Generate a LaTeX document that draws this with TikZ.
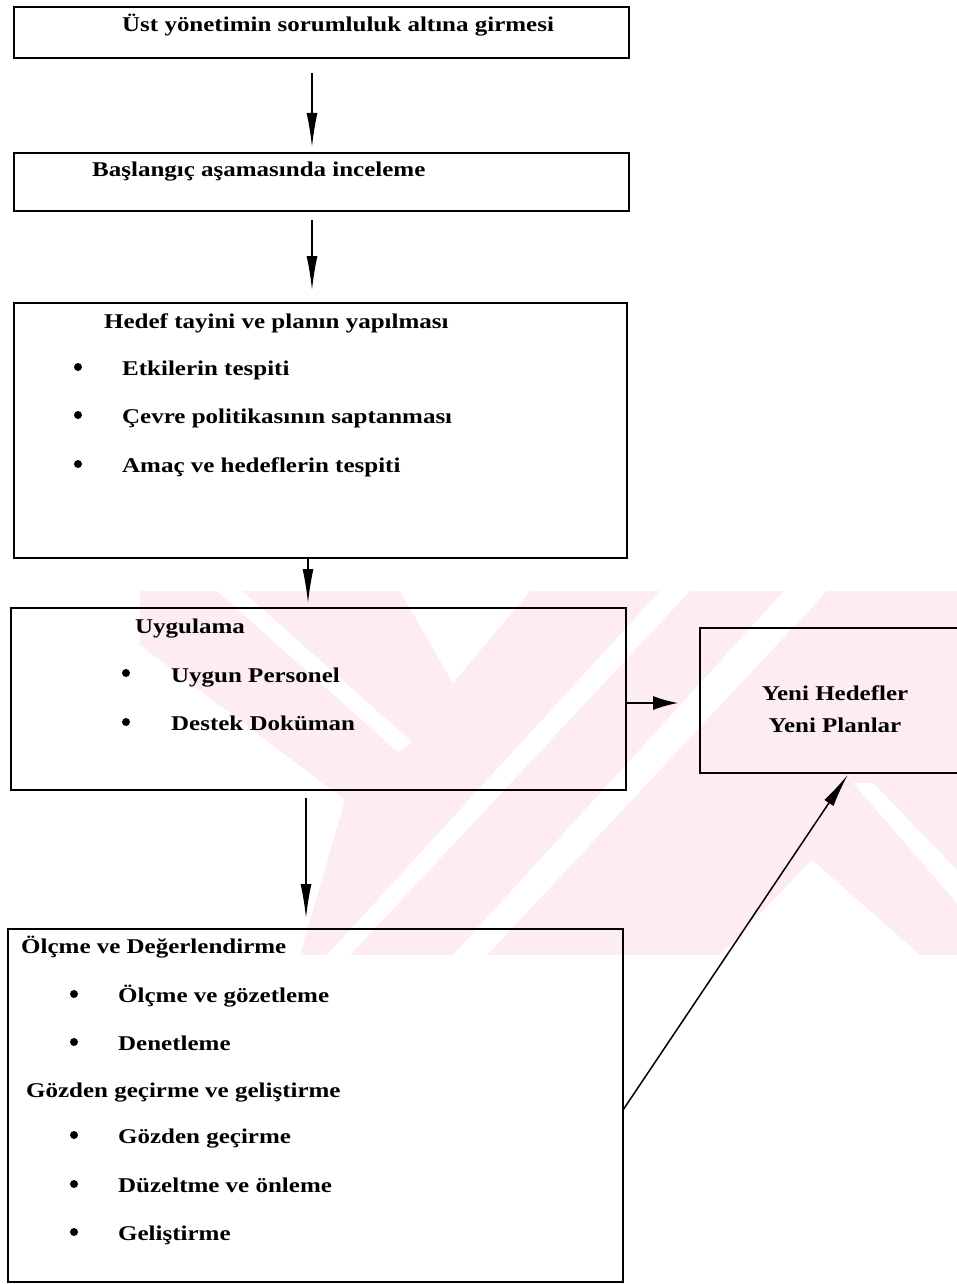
\documentclass[tikz,border=0pt]{standalone}
\usepackage{fontspec}
\setmainfont{Liberation Serif}[BoldFeatures={FakeStretch=1.19}]
\usetikzlibrary{arrows.meta,positioning}
\definecolor{wmpink}{RGB}{253,237,241}
\tikzset{
  flowbox/.style={
    draw=black, line width=1.3pt,
    inner sep=0pt, outer sep=0pt
  },
  flowtext/.style={
    font=\fontsize{21}{26}\selectfont\bfseries,
    inner sep=0pt, anchor=base west
  },
  bulletdot/.style={
    circle, fill=black, inner sep=0pt, minimum size=8pt
  },
  flowarrow/.style={
    -{Latex[length=34pt,width=11pt]},
    draw=black, line width=1.5pt
  },
  sidearrow/.style={
    -{Latex[length=25pt,width=14pt]},
    draw=black, line width=1.5pt
  },
}

\begin{document}
\begin{tikzpicture}[x=1pt, y=-1pt]

  \useasboundingbox (0,0) rectangle (957,1284);
  \clip (0,0) rectangle (957,1284);

  %% watermark
  \fill[wmpink] (140,591) -- (957,591) -- (957,955) -- (300,955)
    -- (345,800) -- (140,645) -- cycle;
  \fill[white] (217,591) -- (242,591) -- (412,742) -- (398,752) -- cycle;
  \fill[white] (400,591) -- (530,591) -- (453,683) -- cycle;
  \fill[white] (327,955) -- (350,955) -- (690,591) -- (660,591) -- cycle;
  \fill[white] (453,955) -- (487,955) -- (827,591) -- (784,591) -- cycle;
  \fill[white] (720,955) -- (812,860) -- (920,955) -- cycle;
  \fill[white] (853,783) -- (873,783) -- (957,870) -- (957,903) -- cycle;

  %% Boxes
  \node[flowbox, minimum width=615pt, minimum height=51pt] (top)
    at (321.5,32.5) {};
  \node[flowbox, minimum width=615pt, minimum height=58pt] (scan)
    at (321.5,182) {};
  \node[flowbox, minimum width=613pt, minimum height=255pt] (plan)
    at (320.5,430.5) {};
  \node[flowbox, minimum width=615pt, minimum height=182pt] (impl)
    at (318.5,699) {};
  \node[flowbox, minimum width=275pt, minimum height=145pt] (newplan)
    at (837.5,700.5) {};
  \node[flowbox, minimum width=615pt, minimum height=353pt] (check)
    at (315.5,1105.5) {};

  %% Texts
  \node[flowtext] (toptext) at (122,32) {Üst yönetimin sorumluluk altına girmesi};
  \node[flowtext] (scantext) at (92,177) {Başlangıç aşamasında inceleme};

  \node[flowtext] (plantitle) at (104,328) {Hedef tayini ve planın yapılması};
  \node[flowtext] (plan1) at (122,375) {Etkilerin tespiti};
  \node[flowtext] (plan2) at (122,423) {Çevre politikasının saptanması};
  \node[flowtext] (plan3) at (122,472) {Amaç ve hedeflerin tespiti};
  \node[bulletdot] (pdot1) at (78,367) {};
  \node[bulletdot] (pdot2) at (78,415) {};
  \node[bulletdot] (pdot3) at (78,464) {};

  \node[flowtext] (impltitle) at (135,633) {Uygulama};
  \node[flowtext] (impl1) at (171,682) {Uygun Personel};
  \node[flowtext] (impl2) at (171,730) {Destek Doküman};
  \node[bulletdot] (idot1) at (126,673) {};
  \node[bulletdot] (idot2) at (126,722) {};

  \node[flowtext, anchor=center, align=center,
        font=\fontsize{21}{32}\selectfont\bfseries] (newtext)
    at (835,709) {Yeni Hedefler\\Yeni Planlar};

  \node[flowtext] (checktitle) at (21,953) {Ölçme ve Değerlendirme};
  \node[flowtext] (check1) at (118,1002) {Ölçme ve gözetleme};
  \node[flowtext] (check2) at (118,1050) {Denetleme};
  \node[flowtext] (reviewtitle) at (26,1097) {Gözden geçirme ve geliştirme};
  \node[flowtext] (review1) at (118,1143) {Gözden geçirme};
  \node[flowtext] (review2) at (118,1192) {Düzeltme ve önleme};
  \node[flowtext] (review3) at (118,1240) {Geliştirme};
  \node[bulletdot] (cdot1) at (74,994) {};
  \node[bulletdot] (cdot2) at (74,1042) {};
  \node[bulletdot] (rdot1) at (74,1135) {};
  \node[bulletdot] (rdot2) at (74,1184) {};
  \node[bulletdot] (rdot3) at (74,1232) {};

  %% Connectors
  \draw[flowarrow, shorten <=15pt, shorten >=6pt]
    ([xshift=-9.5pt]top.south) -- ([xshift=-9.5pt]top.south |- scan.north);
  \draw[flowarrow, shorten <=9pt, shorten >=13pt]
    ([xshift=-9.5pt]scan.south) -- ([xshift=-9.5pt]scan.south |- plan.north);
  \draw[flowarrow, shorten >=5pt]
    ([xshift=-12.5pt]plan.south) -- ([xshift=-12.5pt]plan.south |- impl.north);
  \draw[sidearrow, shorten >=22pt]
    ([yshift=-4pt]impl.east) -- ([yshift=-4pt]impl.east -| newplan.west);
  \draw[flowarrow, shorten <=8pt, shorten >=11pt]
    ([xshift=-12.5pt]impl.south) -- ([xshift=-12.5pt]impl.south |- check.north);
  \draw[flowarrow, shorten >=2pt]
    ([yshift=-4.5pt]check.east) -- ([xshift=11.5pt]newplan.south);

\end{tikzpicture}
\end{document}
